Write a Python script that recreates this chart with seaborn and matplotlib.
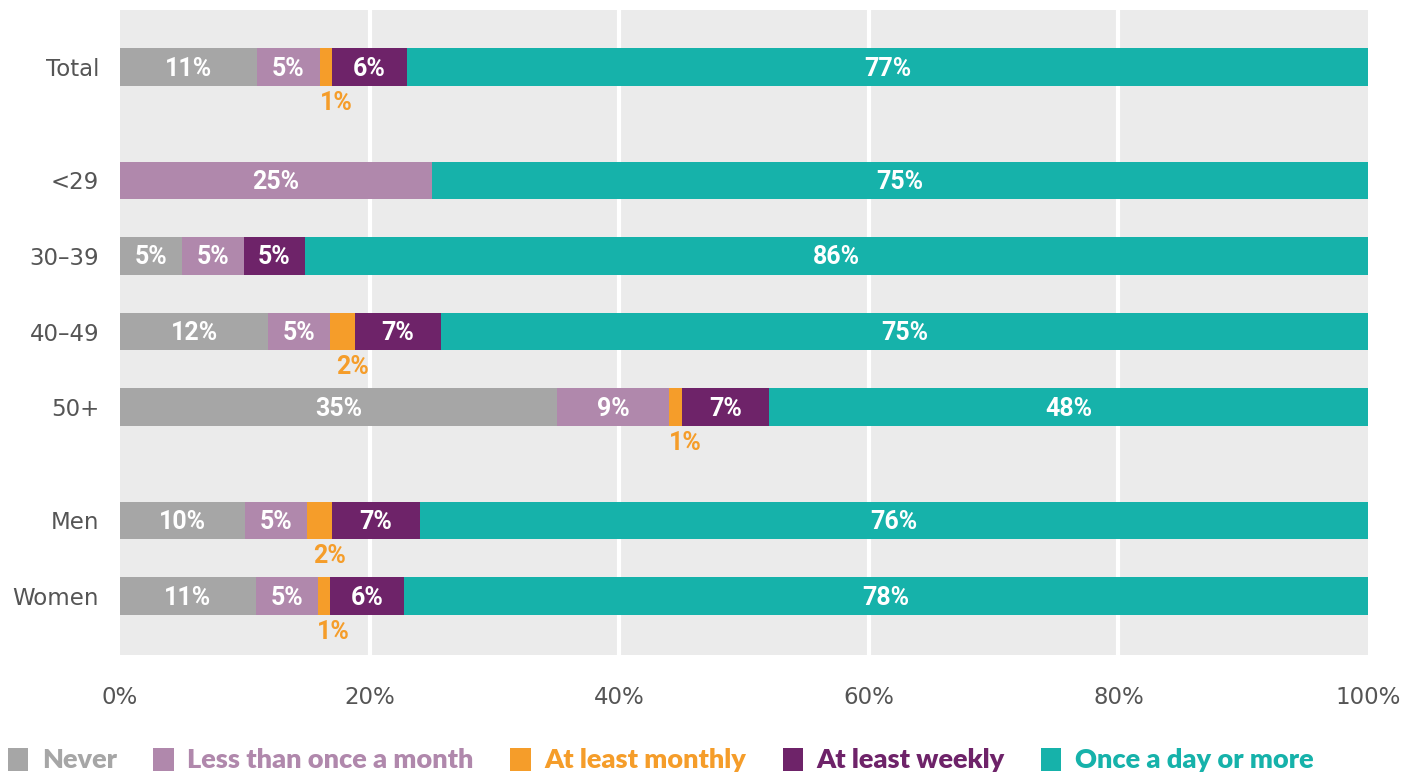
import matplotlib
matplotlib.use("Agg")
import matplotlib.pyplot as plt
import seaborn as sns
import numpy as np
from matplotlib.patches import Patch

categories = ["Total", "<29", "30–39", "40–49", "50+", "Men", "Women"]
positions = [0, 1.5, 2.5, 3.5, 4.5, 6, 7]
series_names = ["Never", "Less than once a month", "At least monthly", "At least weekly", "Once a day or more"]
never = [11, 0, 5, 12, 35, 10, 11]
less_monthly = [5, 25, 5, 5, 9, 5, 5]
monthly = [1, 0, 0, 2, 1, 2, 1]
weekly = [6, 0, 5, 7, 7, 7, 6]
daily = [77, 75, 86, 75, 48, 76, 78]
colors = ["#A6A6A6", "#B088AC", "#F59D2A", "#6E2369", "#16B2AA"]
xticks = [0, 20, 40, 60, 80, 100]
xticklabels = ["0%", "20%", "40%", "60%", "80%", "100%"]

data = np.array([never, less_monthly, monthly, weekly, daily], dtype=float)
shares = data / data.sum(axis=0) * 100
cum = np.cumsum(shares, axis=0)

sns.set_theme(style="white")
plt.rcParams["font.family"] = ["DejaVu Sans"]

fig = plt.figure(figsize=(14.27, 7.73), dpi=100)
ax = fig.add_axes([120/1427, 1-655/773, (1368-120)/1427, (655-10)/773])
ax.set_facecolor("#EBEBEB")
for x in xticks[1:-1]:
    ax.axvline(x, color="white", lw=3, zorder=0)

for i in range(len(series_names) - 1, -1, -1):
    sns.barplot(x=cum[i], y=positions, orient="h", native_scale=True, color=colors[i],
                saturation=1, width=0.5, linewidth=0, ax=ax, zorder=2)

lab_font = ["Roboto", "DejaVu Sans"]
for i in range(len(series_names)):
    for j, p in enumerate(positions):
        v = data[i, j]
        if v <= 0:
            continue
        start = cum[i, j] - shares[i, j]
        center = start + shares[i, j] / 2
        label = f"{int(v)}%"
        if i == 2:
            ax.text(center + 0.8, p + 0.47, label, ha="center", va="center", color=colors[2],
                    fontsize=18, fontweight="bold", family=lab_font, zorder=3)
        else:
            ax.text(center, p + 0.02, label, ha="center", va="center", color="white",
                    fontsize=18, fontweight="bold", family=lab_font, zorder=3)

ax.set_xlim(0, 100)
ax.set_ylim(7.78, -0.755)
ax.set_yticks(positions)
ax.set_yticklabels(categories, fontsize=16.5, color="#555555")
ax.set_xticks(xticks)
ax.set_xticklabels(xticklabels, fontsize=16.5, color="#555555")
ax.tick_params(axis="y", length=0, pad=15)
ax.tick_params(axis="x", length=0, pad=22)
ax.set_xlabel("")
ax.set_ylabel("")
for s in ax.spines.values():
    s.set_visible(False)

handles = [Patch(facecolor=c, edgecolor="none") for c in colors]
leg = fig.legend(handles, series_names, loc="center left", bbox_to_anchor=(8/1427, 1-760/773), ncol=5,
                 frameon=False, prop={"family": ["Lato", "DejaVu Sans"], "weight": "heavy", "size": 19.5},
                 handlelength=0.75, handleheight=0.95,
                 handletextpad=0.5, columnspacing=1.35, borderaxespad=0, borderpad=0)
for t, c in zip(leg.get_texts(), colors):
    t.set_color(c)

fig.savefig("out.png", dpi=100)
